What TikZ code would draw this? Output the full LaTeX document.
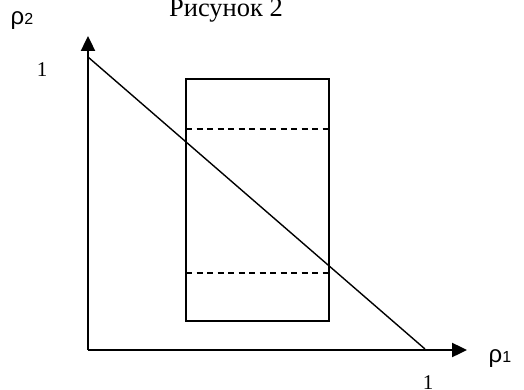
\documentclass[tikz,border=0pt]{standalone}
\usepackage{fontspec}
\setmainfont{Liberation Serif}
\newfontfamily\rhofont{Liberation Sans}
\usetikzlibrary{arrows.meta}

\begin{document}
\begin{tikzpicture}[>={Triangle[length=15pt,width=14pt]},x=1pt,y=-1pt]
    \useasboundingbox (0,0) rectangle (524,390);
    % axes
    \coordinate (O) at (88,350);
    \coordinate (ytop) at (88,36);
    \coordinate (xend) at (467,350);
    \draw[->,line width=2.4pt] (O) -- (ytop);
    \draw[->,line width=2.4pt] (O) -- (xend);
    \node[anchor=base] (ylab) at (22,25) {\fontsize{24}{24}\rhofont ρ\fontsize{16}{16}\selectfont 2};
    \node[anchor=base] (xlab) at (500,362) {\fontsize{24}{24}\rhofont ρ\fontsize{16}{16}\selectfont 1};
    \node[anchor=base] (yone) at (42,77) {\fontsize{21}{21}\selectfont 1};
    \node[anchor=base] (xone) at (428,389) {\fontsize{21}{21}\selectfont 1};
    \node[anchor=base] (title) at (226,17) {\fontsize{26.5}{26.5}\selectfont Рисунок 2};
    % line
    \coordinate (A) at (88,57);
    \coordinate (B) at (425,349);
    \draw[line width=1.4pt] (A) -- (B);
    % rectangle
    \draw[line width=1.5pt] (186,79) rectangle (329,321);
    \coordinate (d1l) at (186,129);
    \coordinate (d1r) at (329,129);
    \coordinate (d2l) at (186,273);
    \coordinate (d2r) at (329,273);
    \draw[line width=1.5pt,dash pattern=on 6pt off 4.5pt] (d1l) -- (d1r);
    \draw[line width=1.5pt,dash pattern=on 6pt off 4.5pt] (d2l) -- (d2r);
  \end{tikzpicture}
\end{document}
